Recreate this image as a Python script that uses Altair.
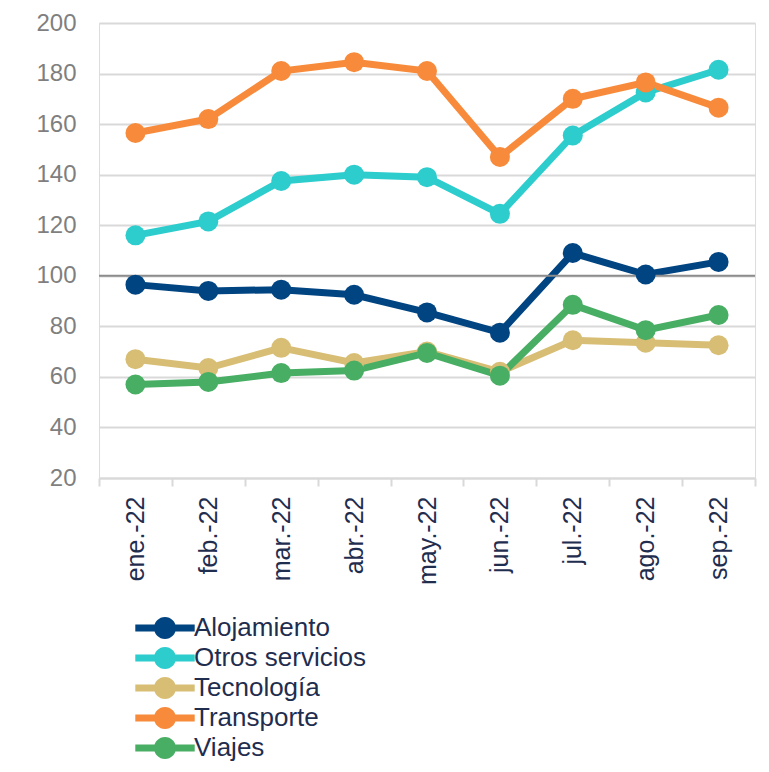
import altair as alt
import pandas as pd

months = ["ene.-22", "feb.-22", "mar.-22", "abr.-22", "may.-22", "jun.-22", "jul.-22", "ago.-22", "sep.-22"]
alojamiento = [96.5, 94, 94.5, 92.5, 85.5, 77.5, 109, 100.5, 105.5]
otros_servicios = [116, 121.5, 137.5, 140, 139, 124.5, 155.5, 172.5, 181.5]
tecnologia = [67, 63.5, 71.5, 65.5, 70, 62, 74.5, 73.5, 72.5]
transporte = [156.5, 162, 181, 184.5, 181, 147, 170, 176.5, 166.5]
viajes = [57, 58, 61.5, 62.5, 69.5, 60.5, 88.5, 78.5, 84.5]

series = {
    "Alojamiento": alojamiento,
    "Otros servicios": otros_servicios,
    "Tecnología": tecnologia,
    "Transporte": transporte,
    "Viajes": viajes,
}
names = list(series.keys())
colors = ["#004481", "#2dcccd", "#d8be75", "#f78b3b", "#48ae64"]

rows = []
for name, vals in series.items():
    for m, v in zip(months, vals):
        rows.append({"mes": m, "serie": name, "valor": v})
df = pd.DataFrame(rows)

FONT = "Liberation Sans"

x_enc = alt.X(
    "mes:N",
    sort=months,
    title=None,
    scale=alt.Scale(type="band", paddingInner=0, paddingOuter=0),
    axis=alt.Axis(
        labelAngle=-90,
        labelFontSize=25,
        labelColor="#1f2d4f",
        labelFont=FONT,
        labelPadding=10,
        labelLimit=200,
        tickBand="extent",
        ticks=True,
        tickSize=8,
        tickColor="#d9d9d9",
        tickWidth=2,
        domainColor="#d9d9d9",
        domainWidth=2,
        grid=False,
    ),
)
y_enc = alt.Y(
    "valor:Q",
    title=None,
    scale=alt.Scale(domain=[20, 200], nice=False, zero=False),
    axis=alt.Axis(
        values=[20, 40, 60, 80, 100, 120, 140, 160, 180, 200],
        labelFontSize=24,
        labelColor="#7f7f7f",
        labelFont=FONT,
        labelPadding=23,
        domain=False,
        ticks=False,
        grid=True,
        gridColor="#d9d9d9",
        gridWidth=2,
    ),
)
color_scale = alt.Scale(domain=names, range=colors)

legend_path = (
    "M -2.7 -0.32 L 2.7 -0.32 L 2.7 0.32 L -2.7 0.32 Z "
    "M -1 0 A 1 1 0 1 1 1 0 A 1 1 0 1 1 -1 0 Z"
)
legend = alt.Legend(
    title=None,
    orient="none",
    legendX=53,
    legendY=592,
    direction="vertical",
    symbolType=legend_path,
    symbolSize=484,
    symbolStrokeWidth=0,
    symbolOpacity=1,
    symbolFillColor="#000000",
    labelFontSize=26,
    labelFont=FONT,
    labelColor="#1f2d4f",
    labelOffset=16,
    labelLimit=300,
    rowPadding=4,
    padding=0,
)
color_enc = alt.Color("serie:N", scale=color_scale, legend=legend)

lines = alt.Chart(df).mark_line(strokeWidth=7).encode(
    x=x_enc,
    y=y_enc,
    color=color_enc,
)

points = alt.Chart(df).mark_circle(size=400, opacity=1).encode(
    x=x_enc,
    y=y_enc,
    color=color_enc,
)

ref = alt.Chart(pd.DataFrame({"v": [100]})).mark_rule(color="#8c8c8c", strokeWidth=2).encode(
    y=alt.datum(100)
)

chart = (
    alt.layer(lines, ref, points)
    .properties(
        width=656,
        height=455,
        autosize=alt.AutoSizeParams(type="none"),
        padding={"left": 91, "top": 15, "right": 6, "bottom": 286},
    )
    .configure_view(stroke=None)
    .configure(background="white")
)

chart.save("out.html", embed_options={"renderer": "svg", "actions": False})
